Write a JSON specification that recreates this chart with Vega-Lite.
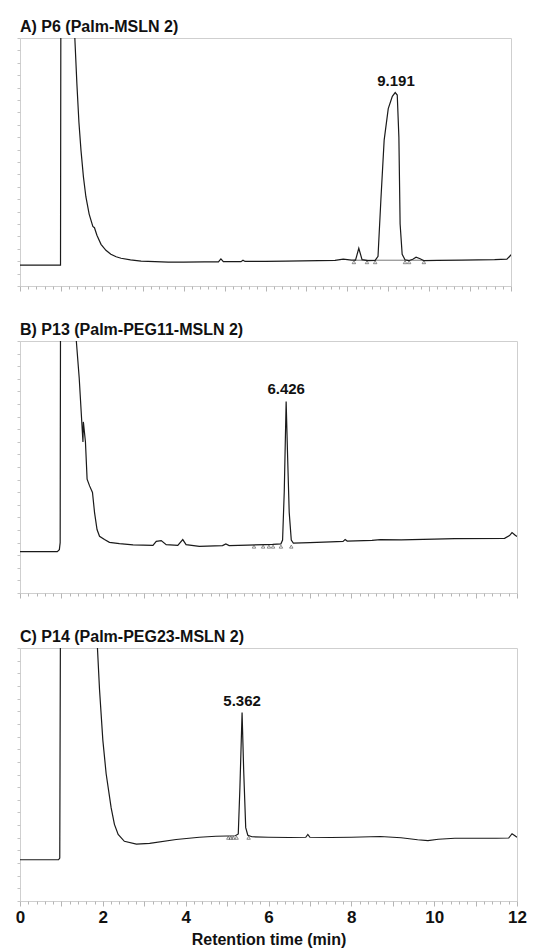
{
  "$schema": "https://vega.github.io/schema/vega-lite/v6.json",
  "padding": {"left": 10, "top": 18, "right": 10, "bottom": 0},
  "spacing": 29,
  "config": {
    "view": {"stroke": "#cfcfcf", "strokeWidth": 1},
    "font": "Liberation Sans",
    "title": {"anchor": "start", "frame": "group", "fontSize": 16, "fontWeight": "bold", "color": "#111", "offset": 3}
  },
  "datasets": {
    "A": [
      {"t": 0, "v": 8.4}, {"t": 0.99, "v": 8.4}, {"t": 1.0, "v": 130}, {"t": 1.32, "v": 130}, {"t": 1.34, "v": 100},
      {"t": 1.39, "v": 81.6}, {"t": 1.44, "v": 66}, {"t": 1.49, "v": 54.8}, {"t": 1.55, "v": 44}, {"t": 1.61, "v": 36},
      {"t": 1.69, "v": 29}, {"t": 1.78, "v": 24}, {"t": 1.82, "v": 23.5}, {"t": 1.88, "v": 20.5}, {"t": 1.98, "v": 16.8},
      {"t": 2.1, "v": 14.4}, {"t": 2.22, "v": 12.8}, {"t": 2.35, "v": 11.8}, {"t": 2.47, "v": 11.2}, {"t": 2.7, "v": 10.5},
      {"t": 2.96, "v": 10.0}, {"t": 3.3, "v": 9.8}, {"t": 3.62, "v": 9.6}, {"t": 4.0, "v": 9.6}, {"t": 4.5, "v": 9.7},
      {"t": 4.85, "v": 9.7}, {"t": 4.91, "v": 10.9}, {"t": 4.97, "v": 9.8}, {"t": 5.4, "v": 9.8}, {"t": 5.45, "v": 10.4},
      {"t": 5.5, "v": 9.9}, {"t": 6.0, "v": 9.9}, {"t": 6.5, "v": 10.0}, {"t": 6.9, "v": 10.1}, {"t": 7.3, "v": 10.2},
      {"t": 7.7, "v": 10.3}, {"t": 7.9, "v": 10.8}, {"t": 8.1, "v": 10.4}, {"t": 8.2, "v": 10.4}, {"t": 8.28, "v": 15.2},
      {"t": 8.36, "v": 10.6}, {"t": 8.5, "v": 10.2}, {"t": 8.68, "v": 10.3}, {"t": 8.75, "v": 12}, {"t": 8.82, "v": 34.8},
      {"t": 8.9, "v": 58.8}, {"t": 9.0, "v": 71.5}, {"t": 9.1, "v": 76.5}, {"t": 9.17, "v": 78}, {"t": 9.22, "v": 77},
      {"t": 9.26, "v": 60}, {"t": 9.29, "v": 25}, {"t": 9.34, "v": 12.8}, {"t": 9.41, "v": 10.6}, {"t": 9.5, "v": 10.2},
      {"t": 9.6, "v": 10.8}, {"t": 9.68, "v": 11.6}, {"t": 9.78, "v": 11.0}, {"t": 9.87, "v": 10.2}, {"t": 10.2, "v": 10.3},
      {"t": 10.8, "v": 10.4}, {"t": 11.2, "v": 10.5}, {"t": 11.6, "v": 10.6}, {"t": 11.9, "v": 10.8}, {"t": 11.97, "v": 12.0},
      {"t": 12, "v": 12.6}
    ],
    "Atri": [{"t": 8.16, "v": 9.6}, {"t": 8.48, "v": 9.6}, {"t": 8.68, "v": 9.6}, {"t": 9.41, "v": 9.6}, {"t": 9.51, "v": 9.6}, {"t": 9.87, "v": 9.6}],
    "Abase": [{"t": 8.16, "t2": 9.87, "v": 10.4}],
    "Alab": [{"t": 9.19, "v": 78, "label": "9.191"}],
    "B": [
      {"t": 0, "v": 16.4}, {"t": 0.9, "v": 16.4}, {"t": 0.95, "v": 17.2}, {"t": 0.97, "v": 20}, {"t": 0.98, "v": 130},
      {"t": 1.34, "v": 130}, {"t": 1.36, "v": 100}, {"t": 1.43, "v": 85.2}, {"t": 1.52, "v": 59.9}, {"t": 1.53, "v": 67.9},
      {"t": 1.58, "v": 60}, {"t": 1.62, "v": 45.2}, {"t": 1.68, "v": 42.5}, {"t": 1.75, "v": 39.9}, {"t": 1.8, "v": 31.9},
      {"t": 1.86, "v": 25.2}, {"t": 1.92, "v": 22.5}, {"t": 2.04, "v": 21.2}, {"t": 2.16, "v": 20.1}, {"t": 2.4, "v": 19.6},
      {"t": 2.73, "v": 19.1}, {"t": 3.21, "v": 18.9}, {"t": 3.29, "v": 20.5}, {"t": 3.41, "v": 20.8}, {"t": 3.53, "v": 19.2},
      {"t": 3.81, "v": 18.9}, {"t": 3.93, "v": 21.2}, {"t": 4.01, "v": 19.2}, {"t": 4.33, "v": 18.5}, {"t": 4.89, "v": 18.8},
      {"t": 4.97, "v": 19.5}, {"t": 5.05, "v": 18.8}, {"t": 5.5, "v": 19.0}, {"t": 5.93, "v": 19.2}, {"t": 6.1, "v": 19.3},
      {"t": 6.3, "v": 19.5}, {"t": 6.34, "v": 21}, {"t": 6.38, "v": 40}, {"t": 6.426, "v": 76}, {"t": 6.46, "v": 55},
      {"t": 6.5, "v": 32}, {"t": 6.55, "v": 21}, {"t": 6.6, "v": 19.8}, {"t": 7.0, "v": 20.0}, {"t": 7.5, "v": 20.3},
      {"t": 7.8, "v": 20.5}, {"t": 7.85, "v": 21.2}, {"t": 7.9, "v": 20.6}, {"t": 8.5, "v": 20.9}, {"t": 8.7, "v": 21.2},
      {"t": 9.2, "v": 21.1}, {"t": 10.0, "v": 21.4}, {"t": 10.5, "v": 21.6}, {"t": 11.7, "v": 21.7}, {"t": 11.82, "v": 22.8},
      {"t": 11.88, "v": 24}, {"t": 11.95, "v": 23}, {"t": 12, "v": 22.4}
    ],
    "Btri": [{"t": 5.65, "v": 18.4}, {"t": 5.87, "v": 18.4}, {"t": 6.01, "v": 18.4}, {"t": 6.11, "v": 18.4}, {"t": 6.3, "v": 18.4}, {"t": 6.55, "v": 18.4}],
    "Blab": [{"t": 6.426, "v": 76, "label": "6.426"}],
    "C": [
      {"t": 0, "v": 16.3}, {"t": 0.93, "v": 16.3}, {"t": 0.96, "v": 17}, {"t": 0.98, "v": 130}, {"t": 1.85, "v": 130},
      {"t": 1.87, "v": 100}, {"t": 1.92, "v": 83.6}, {"t": 2.0, "v": 63.6}, {"t": 2.08, "v": 50.3}, {"t": 2.2, "v": 36.9},
      {"t": 2.28, "v": 30.3}, {"t": 2.37, "v": 26.3}, {"t": 2.52, "v": 23.6}, {"t": 2.81, "v": 22.5}, {"t": 3.13, "v": 22.8},
      {"t": 3.77, "v": 24.3}, {"t": 4.33, "v": 25.2}, {"t": 4.73, "v": 25.6}, {"t": 5.0, "v": 25.7}, {"t": 5.2, "v": 25.8},
      {"t": 5.27, "v": 26.5}, {"t": 5.31, "v": 45}, {"t": 5.362, "v": 74.5}, {"t": 5.4, "v": 52}, {"t": 5.45, "v": 29},
      {"t": 5.5, "v": 26}, {"t": 5.6, "v": 25.4}, {"t": 6.0, "v": 25.2}, {"t": 6.5, "v": 25.1}, {"t": 6.9, "v": 25.2},
      {"t": 6.95, "v": 26.3}, {"t": 7.0, "v": 25.2}, {"t": 7.5, "v": 25.1}, {"t": 8.0, "v": 25.2}, {"t": 8.7, "v": 25.5},
      {"t": 9.2, "v": 25.0}, {"t": 9.6, "v": 24.2}, {"t": 9.85, "v": 23.9}, {"t": 10.1, "v": 24.4}, {"t": 10.5, "v": 24.8},
      {"t": 11.0, "v": 24.8}, {"t": 11.5, "v": 24.8}, {"t": 11.8, "v": 24.9}, {"t": 11.88, "v": 26.6}, {"t": 11.95, "v": 25.8},
      {"t": 12, "v": 25.2}
    ],
    "Ctri": [{"t": 5.03, "v": 25}, {"t": 5.09, "v": 25}, {"t": 5.15, "v": 25}, {"t": 5.23, "v": 25}, {"t": 5.52, "v": 25}],
    "Clab": [{"t": 5.362, "v": 74.5, "label": "5.362"}]
  },
  "vconcat": [
    {
      "width": 491, "height": 248,
      "title": {"text": "A) P6 (Palm-MSLN 2)"},
      "encoding": {
        "x": {"field": "t", "type": "quantitative", "scale": {"domain": [0, 12], "nice": false},
          "axis": {"values": [0,0.2,0.4,0.6,0.8,1,1.2,1.4,1.6,1.8,2,2.2,2.4,2.6,2.8,3,3.2,3.4,3.6,3.8,4,4.2,4.4,4.6,4.8,5,5.2,5.4,5.6,5.8,6,6.2,6.4,6.6,6.8,7,7.2,7.4,7.6,7.8,8,8.2,8.4,8.6,8.8,9,9.2,9.4,9.6,9.8,10,10.2,10.4,10.6,10.8,11,11.2,11.4,11.6,11.8,12],
            "labels": false, "title": null, "domain": false, "grid": false, "tickColor": "#b5b5b5",
            "tickSize": {"condition": {"test": "datum.value % 1 === 0", "value": 5}, "value": 3}}},
        "y": {"field": "v", "type": "quantitative", "scale": {"domain": [0, 100], "nice": false},
          "axis": {"labels": false, "title": null, "domain": false, "grid": false, "tickColor": "#c5c5c5", "tickSize": 3, "tickCount": 24, "minExtent": 9, "maxExtent": 9}}
      },
      "layer": [
        {"data": {"name": "Abase"}, "mark": {"type": "rule", "color": "#555", "strokeWidth": 0.8}, "encoding": {"x2": {"field": "t2"}}},
        {"data": {"name": "A"}, "mark": {"type": "line", "clip": true, "color": "#1a1a1a", "strokeWidth": 1.2}},
        {"data": {"name": "Atri"}, "mark": {"type": "point", "shape": "triangle-up", "filled": false, "size": 12, "color": "#333", "strokeWidth": 0.8}},
        {"data": {"name": "Alab"}, "mark": {"type": "text", "fontWeight": "bold", "fontSize": 15, "baseline": "bottom", "dy": -4, "color": "#111"}, "encoding": {"text": {"field": "label"}}}
      ]
    },
    {
      "width": 497, "height": 252,
      "title": {"text": "B) P13 (Palm-PEG11-MSLN 2)"},
      "encoding": {
        "x": {"field": "t", "type": "quantitative", "scale": {"domain": [0, 12], "nice": false},
          "axis": {"values": [0,0.2,0.4,0.6,0.8,1,1.2,1.4,1.6,1.8,2,2.2,2.4,2.6,2.8,3,3.2,3.4,3.6,3.8,4,4.2,4.4,4.6,4.8,5,5.2,5.4,5.6,5.8,6,6.2,6.4,6.6,6.8,7,7.2,7.4,7.6,7.8,8,8.2,8.4,8.6,8.8,9,9.2,9.4,9.6,9.8,10,10.2,10.4,10.6,10.8,11,11.2,11.4,11.6,11.8,12],
            "labels": false, "title": null, "domain": false, "grid": false, "tickColor": "#b5b5b5",
            "tickSize": {"condition": {"test": "datum.value % 1 === 0", "value": 5}, "value": 3}}},
        "y": {"field": "v", "type": "quantitative", "scale": {"domain": [0, 100], "nice": false},
          "axis": {"labels": false, "title": null, "domain": false, "grid": false, "tickColor": "#c5c5c5", "tickSize": 3, "tickCount": 24, "minExtent": 3, "maxExtent": 3}}
      },
      "layer": [
        {"data": {"name": "B"}, "mark": {"type": "line", "clip": true, "color": "#1a1a1a", "strokeWidth": 1.2}},
        {"data": {"name": "Btri"}, "mark": {"type": "point", "shape": "triangle-up", "filled": false, "size": 12, "color": "#333", "strokeWidth": 0.8}},
        {"data": {"name": "Blab"}, "mark": {"type": "text", "fontWeight": "bold", "fontSize": 15, "baseline": "bottom", "dy": -4, "color": "#111"}, "encoding": {"text": {"field": "label"}}}
      ]
    },
    {
      "width": 497, "height": 253,
      "title": {"text": "C) P14 (Palm-PEG23-MSLN 2)"},
      "encoding": {
        "x": {"field": "t", "type": "quantitative", "scale": {"domain": [0, 12], "nice": false},
          "axis": {"values": [0,0.2,0.4,0.6,0.8,1,1.2,1.4,1.6,1.8,2,2.2,2.4,2.6,2.8,3,3.2,3.4,3.6,3.8,4,4.2,4.4,4.6,4.8,5,5.2,5.4,5.6,5.8,6,6.2,6.4,6.6,6.8,7,7.2,7.4,7.6,7.8,8,8.2,8.4,8.6,8.8,9,9.2,9.4,9.6,9.8,10,10.2,10.4,10.6,10.8,11,11.2,11.4,11.6,11.8,12],
            "labelExpr": "datum.value % 2 === 0 ? '' + datum.value : ''", "labelOverlap": false, "labelFlush": false,
            "labelFontSize": 17, "labelFontWeight": "bold", "labelColor": "#111", "labelPadding": 3,
            "title": "Retention time (min)", "titleFontSize": 16, "titleFontWeight": "bold", "titleColor": "#111", "titlePadding": 6,
            "domain": false, "grid": false, "tickColor": "#b5b5b5",
            "tickSize": {"condition": {"test": "datum.value % 1 === 0", "value": 5}, "value": 3}}},
        "y": {"field": "v", "type": "quantitative", "scale": {"domain": [0, 100], "nice": false},
          "axis": {"labels": false, "title": null, "domain": false, "grid": false, "tickColor": "#c5c5c5", "tickSize": 3, "tickCount": 24, "minExtent": 3, "maxExtent": 3}}
      },
      "layer": [
        {"data": {"name": "C"}, "mark": {"type": "line", "clip": true, "color": "#1a1a1a", "strokeWidth": 1.2}},
        {"data": {"name": "Ctri"}, "mark": {"type": "point", "shape": "triangle-up", "filled": false, "size": 12, "color": "#333", "strokeWidth": 0.8}},
        {"data": {"name": "Clab"}, "mark": {"type": "text", "fontWeight": "bold", "fontSize": 15, "baseline": "bottom", "dy": -4, "color": "#111"}, "encoding": {"text": {"field": "label"}}}
      ]
    }
  ]
}
